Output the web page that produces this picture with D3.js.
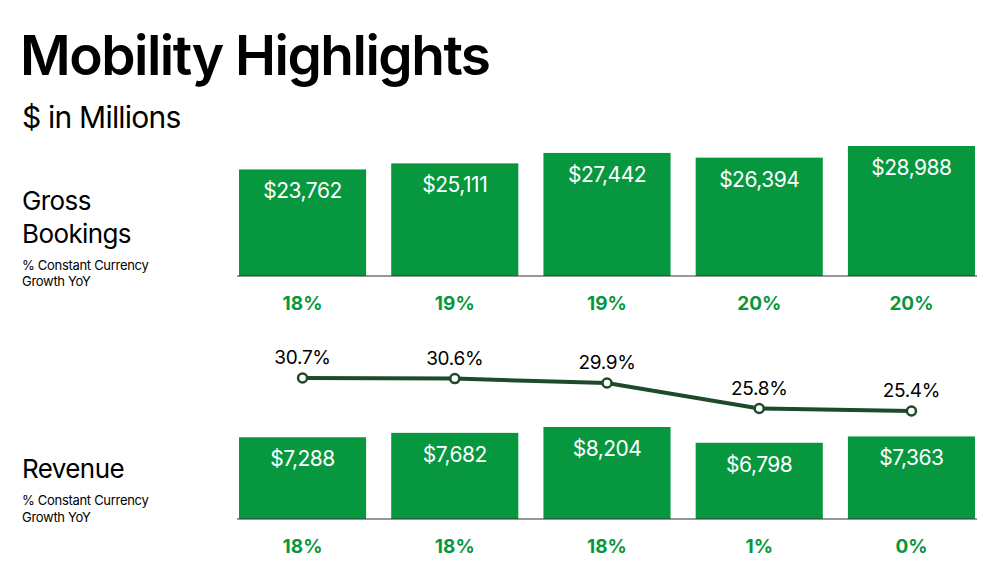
<!DOCTYPE html>
<html><head><meta charset="utf-8">
<script src="https://cdn.jsdelivr.net/npm/d3@7"></script>
<style>body{margin:0;background:#fff}svg{font-family:Inter,"Noto Sans",sans-serif}</style>
</head><body><div id="chart"></div>
<script>
const quarters = ["Q1","Q2","Q3","Q4","Q5"];
const grossBookings = [23762, 25111, 27442, 26394, 28988];
const gbGrowth = ["18%","19%","19%","20%","20%"];
const revenue = [7288, 7682, 8204, 6798, 7363];
const revGrowth = ["18%","18%","18%","1%","0%"];
const takeRate = [30.7, 30.6, 29.9, 25.8, 25.4];

const green = "#07973f", dark = "#1d4a2a";
const svg = d3.select("#chart").append("svg").attr("width", 1006).attr("height", 572);

const x = d3.scaleBand().domain(quarters).range([239, 975]).paddingInner(0.165).paddingOuter(0);

svg.append("text").attr("x", 20).attr("y", 75).attr("font-size", 55).attr("font-weight", 600)
  .attr("letter-spacing", -1.5).text("Mobility Highlights");
svg.append("text").attr("x", 22).attr("y", 128).attr("font-size", 30).attr("letter-spacing", -0.8).text("$ in Millions");

function leftLabel(lines, y0) {
  lines.forEach((l, i) => {
    svg.append("text").attr("x", 22).attr("y", y0 + (i === 0 ? 0 : 33)).attr("font-size", 26)
      .attr("letter-spacing", -0.6).text(l);
  });
}
leftLabel(["Gross", "Bookings"], 210);
leftLabel(["Revenue"], 478);
[[270, 286], [505, 522]].forEach(([a, b]) => {
  svg.append("text").attr("x", 22).attr("y", a).attr("font-size", 13).attr("letter-spacing", -0.3).text("% Constant Currency");
  svg.append("text").attr("x", 22).attr("y", b).attr("font-size", 13).attr("letter-spacing", -0.3).text("Growth YoY");
});

function barPanel(values, growth, base, maxH, maxV) {
  const y = d3.scaleLinear().domain([0, maxV]).range([base, base - maxH]);
  const g = svg.append("g");
  g.selectAll("rect").data(values).join("rect")
    .attr("x", (d, i) => x(quarters[i])).attr("width", x.bandwidth())
    .attr("y", d => y(d)).attr("height", d => base - y(d)).attr("fill", green);
  g.selectAll("text.v").data(values).join("text").attr("class", "v")
    .attr("x", (d, i) => x(quarters[i]) + x.bandwidth() / 2).attr("y", d => y(d) + 29)
    .attr("text-anchor", "middle").attr("fill", "#fff").attr("font-size", 21).attr("letter-spacing", -0.5)
    .text(d => "$" + d3.format(",")(d));
  g.append("line").attr("x1", 237).attr("x2", 977).attr("y1", base).attr("y2", base)
    .attr("stroke", "#333").attr("stroke-width", 1);
  g.selectAll("text.g").data(growth).join("text").attr("class", "g")
    .attr("x", (d, i) => x(quarters[i]) + x.bandwidth() / 2).attr("y", base + 34)
    .attr("text-anchor", "middle").attr("fill", green).attr("font-size", 19).attr("font-weight", 700)
    .text(d => d);
}
barPanel(grossBookings, gbGrowth, 276, 130, 28988);
barPanel(revenue, revGrowth, 519, 92, 8204);

const yl = d3.scaleLinear().domain([25.4, 30.7]).range([411, 378]);
const cx = (d, i) => x(quarters[i]) + x.bandwidth() / 2;
svg.append("path").datum(takeRate)
  .attr("d", d3.line().x(cx).y(d => yl(d)))
  .attr("fill", "none").attr("stroke", dark).attr("stroke-width", 4);
svg.selectAll("circle").data(takeRate).join("circle")
  .attr("cx", cx).attr("cy", d => yl(d)).attr("r", 4.5)
  .attr("fill", "#fff").attr("stroke", dark).attr("stroke-width", 2.5);
svg.selectAll("text.t").data(takeRate).join("text").attr("class", "t")
  .attr("x", cx).attr("y", d => yl(d) - 14).attr("text-anchor", "middle")
  .attr("font-size", 19).attr("letter-spacing", -0.3).text(d => d.toFixed(1) + "%");
</script></body></html>
